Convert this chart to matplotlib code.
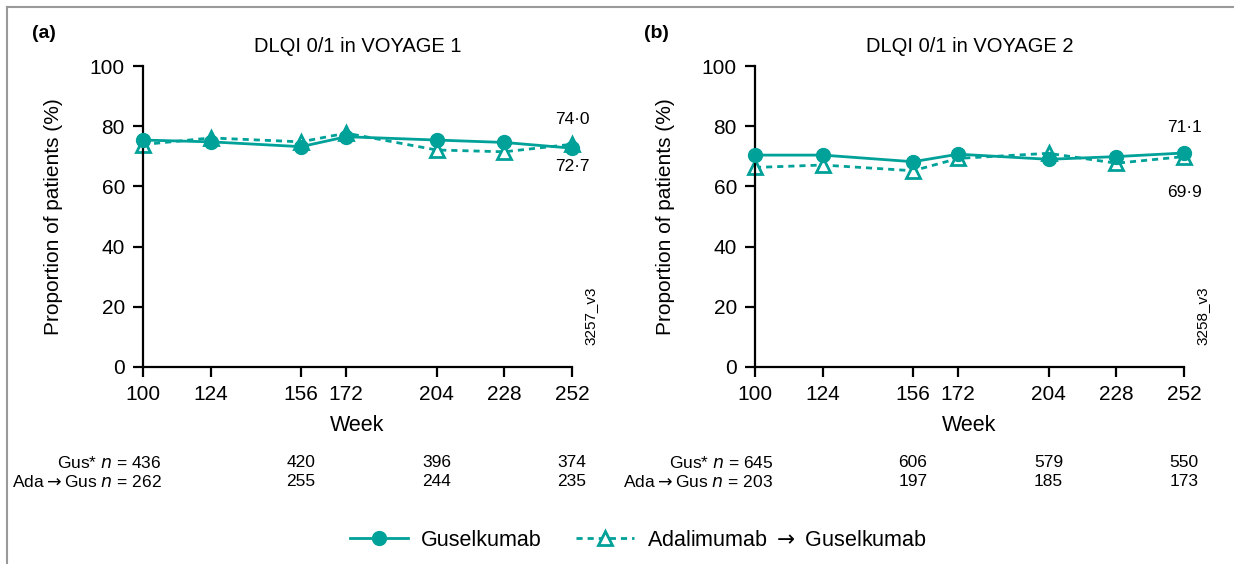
import matplotlib
matplotlib.use("Agg")
import matplotlib.pyplot as plt
from matplotlib.lines import Line2D

plt.rcParams['font.family'] = ['Liberation Sans', 'DejaVu Sans']
plt.rcParams['mathtext.fontset'] = 'dejavusans'

weeks = [100, 124, 156, 172, 204, 228, 252]
gus_v1 = [75.4, 74.8, 73.2, 76.5, 75.4, 74.6, 72.7]
ada_v1 = [73.9, 76.1, 74.8, 77.7, 72.1, 71.5, 74.0]
gus_v2 = [70.4, 70.4, 68.2, 70.7, 69.0, 69.9, 71.1]
ada_v2 = [66.3, 67.1, 65.2, 69.3, 71.0, 67.7, 69.9]

n_weeks = [100, 156, 204, 252]
n_gus_v1 = [436, 420, 396, 374]
n_ada_v1 = [262, 255, 244, 235]
n_gus_v2 = [645, 606, 579, 550]
n_ada_v2 = [203, 197, 185, 173]

titles = ["DLQI 0/1 in VOYAGE 1", "DLQI 0/1 in VOYAGE 2"]
panel_labels = ["(a)", "(b)"]
codes = ["3257_v3", "3258_v3"]
yticks = [0, 20, 40, 60, 80, 100]

teal = "#00a199"
W, H = 1234, 564
fig = plt.figure(figsize=(W / 100, H / 100), dpi=100)

# (x0, gus, ada, n gus, n ada, offset above (pt), offset below (pt))
panels = [
    (143, gus_v1, ada_v1, n_gus_v1, n_ada_v1, 18, 13),
    (755, gus_v2, ada_v2, n_gus_v2, n_ada_v2, 18.5, 26),
]
ax_w = 429
ax_top, ax_bot = 66, 367
dash = (0, (2.2, 1.8))
arrow = "$\\rightarrow$"

for i, (x0, gus, ada, ng, na, off_hi, off_lo) in enumerate(panels):
    ax = fig.add_axes([x0 / W, 1 - ax_bot / H, ax_w / W, (ax_bot - ax_top) / H])
    ax.plot(weeks, gus, color=teal, lw=2, marker='o', ms=10, clip_on=False, zorder=3)
    ax.plot(weeks, ada, color=teal, lw=2, ls=dash, marker='^', ms=10,
            mfc='white', mec=teal, mew=2, clip_on=False, zorder=2)
    ax.set_xlim(100, 252)
    ax.set_ylim(0, 100)
    ax.set_xticks(weeks)
    ax.set_yticks(yticks)
    ax.tick_params(labelsize=15, width=1.6, length=7, direction='out', pad=6)
    for s in ['top', 'right']:
        ax.spines[s].set_visible(False)
    for s in ['left', 'bottom']:
        ax.spines[s].set_linewidth(1.6)
    ax.set_xlabel("Week", fontsize=15.5, labelpad=8)
    ax.set_ylabel("Proportion of patients (%)", fontsize=15, labelpad=19)
    ax.set_title(titles[i], fontsize=14.5, pad=10)
    ax.text(-0.258, 1.108, panel_labels[i], transform=ax.transAxes, fontsize=14,
            fontweight='bold', ha='left', va='center')
    # end labels
    hi, lo = max(gus[-1], ada[-1]), min(gus[-1], ada[-1])
    ax.annotate(f"{hi:.1f}".replace('.', '·'), (252, hi), xytext=(0, off_hi),
                textcoords='offset points', ha='center', va='center', fontsize=12.5)
    ax.annotate(f"{lo:.1f}".replace('.', '·'), (252, lo), xytext=(0, -off_lo),
                textcoords='offset points', ha='center', va='center', fontsize=12.5)
    ax.text(1.043, 0.17, codes[i], transform=ax.transAxes, rotation=90,
            fontsize=11, ha='center', va='center')
    # n table
    trans = ax.get_xaxis_transform()
    for j, wk in enumerate(n_weeks):
        if j == 0:
            ax.text(wk + 6.5, -0.318, f"Gus* $\\it{{n}}$ = {ng[j]}", transform=trans,
                    ha='right', va='center', fontsize=12.5)
            ax.text(wk + 6.5, -0.382, f"Ada{arrow}Gus $\\it{{n}}$ = {na[j]}",
                    transform=trans, ha='right', va='center', fontsize=12.5)
        else:
            ax.text(wk, -0.318, str(ng[j]), transform=trans, ha='center',
                    va='center', fontsize=12.5)
            ax.text(wk, -0.382, str(na[j]), transform=trans, ha='center',
                    va='center', fontsize=12.5)

handles = [
    Line2D([], [], color=teal, lw=2, marker='o', ms=10),
    Line2D([], [], color=teal, lw=2, ls=dash, marker='^', ms=10,
           mfc='white', mec=teal, mew=2),
]
fig.legend(handles, ["Guselkumab", f"Adalimumab {arrow} Guselkumab"], loc='center',
           bbox_to_anchor=(638 / W, 1 - 540 / H), ncol=2, frameon=False,
           fontsize=15.5, handlelength=2.7, handletextpad=0.6, columnspacing=1.6)

# border
fig.add_artist(Line2D([7 / W, 7 / W], [0, 1 - 7 / H], color='#999999', lw=1.5))
fig.add_artist(Line2D([7 / W, 1], [1 - 7 / H, 1 - 7 / H], color='#999999', lw=1.5))

fig.savefig("out.png", dpi=100)
